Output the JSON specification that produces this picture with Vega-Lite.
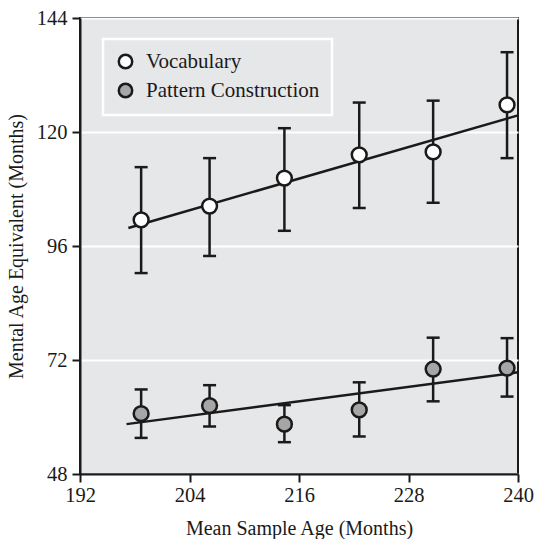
{
  "$schema": "https://vega.github.io/schema/vega-lite/v6.json",
  "width": 438,
  "height": 456,
  "autosize": {"type": "none"},
  "padding": {"left": 80, "top": 18, "right": 18, "bottom": 65},
  "background": "white",
  "config": {
    "font": "Liberation Serif",
    "view": {"fill": "#e6e7e8", "stroke": "#1a1a1a", "strokeWidth": 2},
    "axis": {
      "domainColor": "#1a1a1a", "domainWidth": 2,
      "tickColor": "#1a1a1a", "tickWidth": 2, "tickSize": 8,
      "labelFont": "Liberation Serif", "labelFontSize": 20.5, "labelColor": "#1a1a1a",
      "titleFont": "Liberation Serif", "titleFontSize": 20, "titleFontWeight": "normal", "titleColor": "#1a1a1a",
      "labelFlush": false, "labelOverlap": false
    },
    "axisX": {"grid": false, "titlePadding": 13, "labelPadding": 3},
    "axisY": {"grid": true, "gridColor": "white", "gridWidth": 2, "gridOpacity": 1, "titlePadding": 10, "labelPadding": 5},
    "legend": {
      "orient": "none", "legendX": 23, "legendY": 21,
      "strokeColor": "white", "strokeWidth": 2.5, "fillColor": "#e6e7e8",
      "padding": 12, "rowPadding": 4, "labelLimit": 400,
      "labelFont": "Liberation Serif", "labelFontSize": 21, "labelColor": "#1a1a1a", "labelOffset": 10,
      "symbolType": "circle", "symbolSize": 180, "symbolStrokeColor": "#1a1a1a", "symbolStrokeWidth": 2.5
    }
  },
  "datasets": {
    "pts": [
      {"series": "Vocabulary", "age": 198.7, "mean": 101.5, "lo": 90.3, "hi": 112.6},
      {"series": "Vocabulary", "age": 206.2, "mean": 104.4, "lo": 93.9, "hi": 114.5},
      {"series": "Vocabulary", "age": 214.4, "mean": 110.3, "lo": 99.2, "hi": 120.8},
      {"series": "Vocabulary", "age": 222.6, "mean": 115.2, "lo": 104.0, "hi": 126.2},
      {"series": "Vocabulary", "age": 230.7, "mean": 115.8, "lo": 105.1, "hi": 126.6},
      {"series": "Vocabulary", "age": 238.8, "mean": 125.7, "lo": 114.5, "hi": 136.8},
      {"series": "Pattern Construction", "age": 198.7, "mean": 60.7, "lo": 55.6, "hi": 65.8},
      {"series": "Pattern Construction", "age": 206.2, "mean": 62.4, "lo": 58.0, "hi": 66.7},
      {"series": "Pattern Construction", "age": 214.4, "mean": 58.5, "lo": 54.7, "hi": 62.5},
      {"series": "Pattern Construction", "age": 222.6, "mean": 61.5, "lo": 55.9, "hi": 67.3},
      {"series": "Pattern Construction", "age": 230.7, "mean": 70.1, "lo": 63.3, "hi": 76.7},
      {"series": "Pattern Construction", "age": 238.8, "mean": 70.3, "lo": 64.3, "hi": 76.6}
    ],
    "fit": [
      {"series": "Vocabulary", "age": 197.3, "fit": 99.8},
      {"series": "Vocabulary", "age": 240, "fit": 123.5},
      {"series": "Pattern Construction", "age": 197.1, "fit": 58.5},
      {"series": "Pattern Construction", "age": 240, "fit": 69.4}
    ]
  },
  "encoding": {
    "x": {
      "field": "age", "type": "quantitative",
      "scale": {"domain": [192, 240], "nice": false, "zero": false},
      "axis": {"values": [192, 204, 216, 228, 240], "title": "Mean Sample Age (Months)"}
    }
  },
  "layer": [
    {
      "data": {"name": "fit"},
      "mark": {"type": "line", "color": "#1a1a1a", "strokeWidth": 2.5},
      "encoding": {
        "y": {"field": "fit", "type": "quantitative", "scale": {"domain": [48, 144], "nice": false, "zero": false},
              "axis": {"values": [48, 72, 96, 120, 144]}, "title": "Mental Age Equivalent (Months)"},
        "detail": {"field": "series"}
      }
    },
    {
      "data": {"name": "pts"},
      "mark": {"type": "rule", "color": "#1a1a1a", "strokeWidth": 2.5},
      "encoding": {
        "y": {"field": "lo", "type": "quantitative", "title": "Mental Age Equivalent (Months)"},
        "y2": {"field": "hi"}
      }
    },
    {
      "data": {"name": "pts"},
      "mark": {"type": "tick", "orient": "horizontal", "color": "#1a1a1a", "size": 13, "thickness": 2.5, "opacity": 1},
      "encoding": {
        "y": {"field": "lo", "type": "quantitative", "title": "Mental Age Equivalent (Months)"}
      }
    },
    {
      "data": {"name": "pts"},
      "mark": {"type": "tick", "orient": "horizontal", "color": "#1a1a1a", "size": 13, "thickness": 2.5, "opacity": 1},
      "encoding": {
        "y": {"field": "hi", "type": "quantitative", "title": "Mental Age Equivalent (Months)"}
      }
    },
    {
      "data": {"name": "pts"},
      "mark": {"type": "point", "shape": "circle", "filled": true, "stroke": "#1a1a1a", "strokeWidth": 2.5, "size": 220, "opacity": 1},
      "encoding": {
        "y": {"field": "mean", "type": "quantitative", "title": "Mental Age Equivalent (Months)"},
        "fill": {
          "field": "series", "type": "nominal",
          "scale": {"domain": ["Vocabulary", "Pattern Construction"], "range": ["#ffffff", "#a6a6a6"]},
          "legend": {"title": null}
        }
      }
    }
  ]
}
